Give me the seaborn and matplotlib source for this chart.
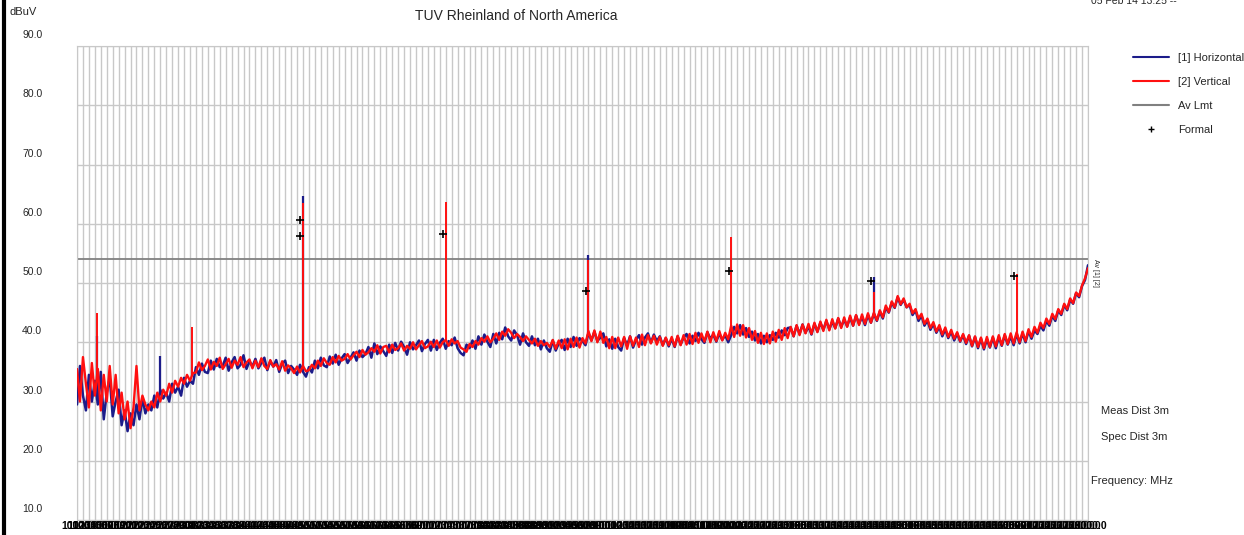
import numpy as np
import pandas as pd
import matplotlib
matplotlib.use("Agg")
import matplotlib.pyplot as plt
import seaborn as sns
from matplotlib.lines import Line2D
from matplotlib.transforms import ScaledTranslation

# sweep 1000 - 18000 MHz, one reading every 50 MHz
freq_mhz = np.arange(1000, 18001, 50)
grid_mhz = np.arange(1000, 18001, 100)

horizontal = [
    29.5, 36.0, 31.0, 28.5, 34.5, 30.0, 33.5, 29.5, 35.0, 27.0, 31.5, 34.0, 27.5, 30.0, 32.0, 26.0, 28.5, 25.0, 28.0, 26.0,
    29.5, 27.0, 30.5, 28.0, 29.5, 28.5, 31.0, 29.0, 32.0, 30.5, 31.5, 30.0, 33.0, 31.5, 32.5, 31.0, 34.0, 32.5, 33.5, 33.0,
    35.8, 34.5, 36.4, 35.0, 34.8, 36.9, 35.4, 37.2, 35.8, 36.0, 37.4, 35.2, 36.6, 37.5, 35.6, 36.2, 37.8, 35.5, 36.8, 35.9,
    37.2, 35.6, 36.5, 37.4, 35.3, 36.8, 35.9, 37.0, 35.0, 36.4, 36.9, 34.8, 36.0, 35.4, 34.5, 36.2, 35.0, 34.2, 35.8, 34.9,
    36.9, 35.6, 37.4, 36.1, 35.8, 37.6, 36.4, 37.9, 36.2, 37.3, 38.0, 36.5, 37.4, 38.3, 36.9, 38.6, 37.5, 38.0, 39.2, 37.4,
    39.8, 38.0, 39.3, 38.5, 37.7, 39.6, 38.2, 39.9, 38.6, 40.1, 39.2, 37.9, 40.0, 38.8, 39.5, 40.3, 38.5, 39.7, 40.4, 38.6,
    40.4, 38.7, 39.9, 40.6, 38.9, 40.2, 39.5, 40.8, 39.0, 38.2, 37.8, 39.6, 39.0, 40.3, 38.9, 41.0, 39.6, 41.3, 40.1, 39.2,
    41.4, 39.8, 41.6, 40.5, 42.5, 41.0, 40.3, 42.0, 41.2, 39.6, 41.5, 40.0, 39.4, 41.0, 39.5, 40.6, 38.8, 40.3, 39.0, 38.4,
    40.3, 38.6, 39.8, 40.4, 38.7, 40.6, 39.2, 40.9, 39.4, 40.7, 40.2, 39.5, 41.6, 40.3, 41.8, 40.2, 40.8, 41.5, 39.3, 40.5,
    38.9, 40.6, 39.2, 38.6, 40.7, 39.5, 41.0, 39.1, 40.4, 41.2, 39.6, 40.8, 41.5, 39.9, 41.3, 40.2, 41.0, 39.5, 40.7, 39.3,
    40.6, 39.2, 41.0, 39.6, 40.8, 41.4, 39.8, 41.1, 40.2, 41.6, 40.5, 39.9, 41.7, 40.6, 41.3, 40.1, 41.5, 40.4, 41.2, 40.0,
    41.2, 42.6, 41.5, 42.9, 41.3, 42.4, 40.9, 41.8, 40.3, 41.4, 39.8, 41.1, 40.0, 41.2, 40.4, 41.6, 40.8, 42.0, 41.2, 42.4,
    42.5, 41.0, 42.8, 41.4, 43.0, 41.6, 42.7, 41.3, 43.1, 41.8, 43.3, 42.1, 43.6, 42.2, 43.5, 42.4, 44.0, 42.6, 43.8, 42.7,
    44.2, 42.8, 44.5, 43.1, 44.3, 42.9, 44.6, 43.3, 44.8, 43.6, 45.2, 44.0, 45.9, 45.0, 46.7, 45.8, 47.6, 46.3, 47.2, 45.9,
    46.3, 44.6, 45.4, 43.6, 44.5, 42.8, 43.7, 42.1, 43.1, 41.6, 42.6, 41.0, 42.2, 40.7, 41.8, 40.3, 41.5, 40.1, 41.2, 39.7,
    41.1, 39.3, 40.9, 39.0, 40.6, 38.8, 40.5, 39.1, 40.8, 39.0, 40.9, 39.4, 41.2, 39.6, 41.0, 39.5, 41.4, 39.8, 41.5, 40.0,
    41.9, 40.6, 42.0, 41.4, 42.8, 42.0, 43.6, 42.8, 44.5, 43.6, 45.4, 44.6, 46.3, 45.4, 47.2, 46.5, 48.3, 47.6, 49.5, 50.5,
    53.0,
]

vertical = [
    35.5, 30.0, 37.5, 33.0, 29.0, 36.5, 31.0, 35.5, 28.5, 34.5, 30.0, 36.0, 29.5, 34.5, 28.0, 31.5, 27.0, 30.0, 25.5, 29.0,
    36.0, 28.5, 31.0, 29.5, 28.5, 30.0, 29.0, 31.5, 30.0, 32.0, 31.0, 33.0, 31.5, 33.5, 32.5, 34.0, 33.0, 34.5, 33.5, 34.8,
    34.9, 36.6, 35.3, 36.0, 37.1, 35.4, 36.7, 36.0, 37.4, 35.5, 36.3, 37.2, 35.7, 36.9, 36.2, 37.5, 35.8, 36.6, 37.1, 35.6,
    36.9, 35.8, 37.3, 36.0, 35.5, 37.0, 35.9, 36.3, 35.4, 36.8, 35.2, 36.1, 35.6, 34.8, 35.9, 34.9, 36.0, 35.1, 35.3, 36.2,
    35.6, 36.9, 36.0, 37.3, 36.5, 36.2, 37.5, 36.6, 37.7, 36.9, 37.2, 38.0, 37.1, 37.8, 38.4, 37.5, 38.7, 37.9, 38.3, 39.0,
    38.4, 39.5, 38.1, 39.2, 39.4, 38.3, 39.6, 38.7, 39.0, 39.8, 38.6, 39.4, 38.9, 40.0, 38.8, 39.5, 40.2, 39.0, 39.3, 40.1,
    39.2, 40.3, 39.1, 40.0, 40.4, 39.4, 40.5, 39.8, 40.2, 39.1, 38.8, 38.4, 39.7, 39.2, 40.2, 39.6, 40.7, 40.1, 41.0, 40.0,
    40.6, 41.5, 40.4, 41.8, 41.1, 42.2, 41.6, 40.7, 41.4, 40.9, 40.2, 41.0, 40.4, 39.8, 40.6, 39.4, 40.2, 39.5, 39.9, 39.2,
    40.4, 38.9, 40.3, 39.0, 40.5, 38.8, 40.6, 39.2, 40.8, 39.1, 40.7, 39.8, 41.9, 40.2, 42.0, 40.0, 41.8, 39.9, 40.9, 39.0,
    40.9, 39.0, 40.8, 39.3, 40.9, 38.9, 41.0, 39.4, 40.8, 39.2, 41.3, 39.5, 41.2, 39.8, 41.1, 39.6, 40.9, 39.4, 40.8, 39.5,
    40.9, 39.3, 41.1, 39.5, 41.2, 39.6, 41.4, 39.7, 41.6, 39.9, 41.5, 40.1, 41.8, 40.0, 41.7, 40.2, 41.9, 40.3, 41.6, 40.5,
    42.8, 40.9, 43.0, 41.1, 42.9, 40.8, 42.4, 40.4, 41.9, 39.9, 41.6, 39.7, 41.5, 39.8, 41.8, 40.1, 42.1, 40.4, 42.4, 40.7,
    42.6, 41.0, 42.9, 41.2, 43.0, 41.5, 43.1, 41.4, 43.3, 41.7, 43.5, 41.9, 43.8, 42.0, 43.9, 42.3, 44.1, 42.4, 44.2, 42.6,
    44.5, 42.8, 44.6, 42.9, 44.7, 43.1, 44.9, 43.3, 45.0, 43.7, 45.4, 44.2, 46.2, 45.1, 46.9, 45.9, 47.8, 46.4, 47.4, 45.9,
    46.5, 44.9, 45.6, 44.0, 44.8, 43.1, 44.0, 42.4, 43.4, 41.8, 42.9, 41.3, 42.5, 40.9, 42.1, 40.6, 41.7, 40.2, 41.4, 39.9,
    41.2, 39.4, 41.0, 39.2, 40.8, 39.0, 40.9, 39.2, 41.0, 39.3, 41.2, 39.5, 41.4, 39.7, 41.5, 39.8, 41.7, 40.0, 41.8, 40.2,
    42.2, 40.9, 42.6, 41.6, 43.3, 42.4, 44.0, 43.1, 44.8, 43.9, 45.6, 44.8, 46.5, 45.6, 47.4, 46.6, 48.4, 47.8, 49.6, 50.8,
    52.5,
]

# narrow emissions (harmonics) on top of the sweep
h_spike_freq = [1340, 2400, 4800, 9600, 14400]
h_spike_top = [41.0, 37.6, 64.7, 54.8, 51.0]
v_spike_freq = [1340, 2930, 4800, 7200, 9600, 12000, 14400, 16800]
v_spike_top = [45.0, 42.6, 63.5, 63.7, 53.9, 57.8, 48.5, 51.5]

# formal measurement points
formal_freq = [4755, 4755, 7155, 9555, 11960, 14355, 16755]
formal_level = [60.7, 58.0, 58.3, 48.7, 52.0, 50.4, 51.1]

av_limit = 54.0

BLUE = "#1c1c8a"
RED = "#ff1010"
GRID = "#c8c8c8"

sns.set_style("white")
plt.rcParams["font.family"] = ["Liberation Sans Narrow", "Liberation Sans", "DejaVu Sans"]

fig = plt.figure(figsize=(12.44, 5.35), dpi=100)
ax = fig.add_axes([0.0619, 0.028, 0.8127, 0.886])

df = pd.DataFrame({"freq": freq_mhz, "horizontal": horizontal, "vertical": vertical})

sns.lineplot(data=df, x="freq", y="horizontal", color=BLUE, lw=1.8, ax=ax,
             estimator=None, zorder=3)
ax.vlines(h_spike_freq, np.interp(h_spike_freq, freq_mhz, horizontal), h_spike_top,
          color=BLUE, lw=1.6, zorder=3)
sns.lineplot(data=df, x="freq", y="vertical", color=RED, lw=1.7, ax=ax,
             estimator=None, zorder=4)
ax.vlines(v_spike_freq, np.interp(v_spike_freq, freq_mhz, vertical), v_spike_top,
          color=RED, lw=1.4, zorder=4)

ax.axhline(av_limit, color="#808080", lw=1.3, zorder=2)
sns.scatterplot(x=formal_freq, y=formal_level, marker="+", color="black", s=40,
                linewidth=1.2, ax=ax, zorder=5)

ax.set_xlim(1000, 18000)
ax.set_ylim(10, 90)
ax.set_xticks(grid_mhz)
ax.set_xticklabels([f"{f:.1f}" for f in grid_mhz], fontsize=7.5, color="black",
                   fontweight="bold")
ax.set_yticks(range(10, 91, 10))
ax.set_yticklabels([f"{v:.1f}" for v in range(10, 91, 10)], fontsize=7.5)
ax.tick_params(axis="both", length=0)
ax.tick_params(axis="y", pad=25)
ax.tick_params(axis="x", pad=1)
for lab in ax.get_yticklabels():
    lab.set_transform(lab.get_transform() + ScaledTranslation(0, 0.12, fig.dpi_scale_trans))
ax.grid(True, color=GRID, lw=1.0)
for s in ax.spines.values():
    s.set_color(GRID)
ax.set_xlabel("")
ax.set_ylabel("")

fig.text(0.415, 0.97, "TUV Rheinland of North America", ha="center", va="center", fontsize=10)
fig.text(0.008, 0.977, "dBuV", ha="left", va="center", fontsize=8)
fig.text(0.877, 0.998, "05 Feb 14 13:25 --", ha="left", va="center", fontsize=7.5)
fig.text(0.885, 0.232, "Meas Dist 3m", ha="left", va="center", fontsize=8)
fig.text(0.885, 0.183, "Spec Dist 3m", ha="left", va="center", fontsize=8)
fig.text(0.877, 0.101, "Frequency: MHz", ha="left", va="center", fontsize=8)
ax.annotate("Av [1] [2]", xy=(18000, av_limit), xytext=(3, 0), textcoords="offset points",
            rotation=-90, fontsize=5, ha="left", va="top", annotation_clip=False)
fig.add_artist(Line2D([0.003, 0.003], [0, 1], color="black", lw=3))

handles = [
    Line2D([], [], color=BLUE, lw=1.5),
    Line2D([], [], color=RED, lw=1.5),
    Line2D([], [], color="#808080", lw=1.5),
    Line2D([], [], color="black", marker="+", lw=0, markersize=5),
]
labels = ["[1] Horizontal", "[2] Vertical", "Av Lmt", "Formal"]
ax.legend(handles, labels, loc="upper left", bbox_to_anchor=(1.035, 1.006), frameon=False,
          fontsize=8, handlelength=3.2, labelspacing=1.25, handletextpad=0.8)

fig.savefig("out.png", dpi=100)
